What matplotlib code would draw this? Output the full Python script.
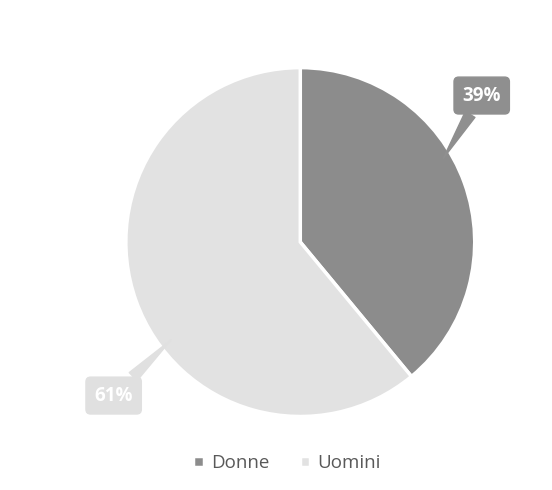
import matplotlib.pyplot as plt

categories = ['Donne', 'Uomini']
values = [39, 61]
colors = ['#8c8c8c', '#e2e2e2']
label_colors = ['#8f8f8f', '#e0e0e0']

plt.rcParams['font.family'] = ['Open Sans', 'DejaVu Sans']

fig = plt.figure(figsize=(5.52, 4.9), dpi=100)
ax = fig.add_axes([0.228, 0.150, 0.632, 0.712])

wedges, _ = ax.pie(values, colors=colors, startangle=90, counterclock=False,
                   wedgeprops=dict(edgecolor='white', linewidth=2.5))
ax.set_xlim(-1, 1)
ax.set_ylim(-1, 1)
ax.set_aspect('equal')

# callout labels: (box position, point on the slice)
label_pos = [(1.04, 0.84), (-1.07, -0.88)]
tip_pos = [(0.82, 0.48), (-0.74, -0.56)]
for v, c, (bx, by), (tx, ty) in zip(values, label_colors, label_pos, tip_pos):
    ax.annotate(f'{v}%', xy=(tx, ty), xytext=(bx, by),
                ha='center', va='center', color='white', fontsize=13.5,
                fontweight='bold', annotation_clip=False,
                bbox=dict(boxstyle='round,pad=0.45,rounding_size=0.25',
                          fc=c, ec=c),
                arrowprops=dict(arrowstyle='wedge,tail_width=0.6', color=c,
                                shrinkA=0, shrinkB=0))

leg = fig.legend(wedges, categories, loc='center', bbox_to_anchor=(0.52, 0.055),
                 ncol=2, frameon=False, fontsize=13.5, handlelength=0.55,
                 handleheight=0.55, columnspacing=1.6, handletextpad=0.4)
for t in leg.get_texts():
    t.set_color('#595959')

fig.savefig('out.png', dpi=100)
